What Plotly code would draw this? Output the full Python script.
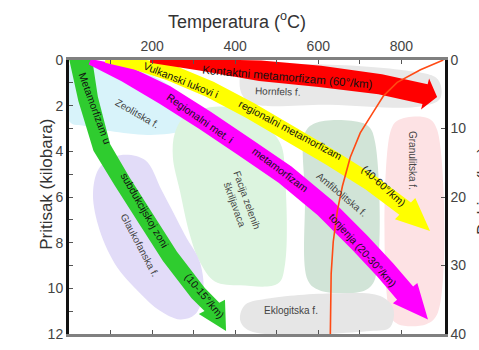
import numpy as np
import plotly.graph_objects as go

# ---------------- data (temperature in °C, pressure in kbar) ----------------
temp_ticks = [100, 200, 300, 400, 500, 600, 700, 800]
temp_labels = ["", "200", "", "400", "", "600", "", "800"]
pres_ticks = list(range(0, 13))
pres_labels = [str(v) if v % 2 == 0 else "" for v in pres_ticks]
depth_ticks = [0, 10, 20, 30, 40]
depth_labels = ["0", "10", "20", "30", "40"]

# metamorphic facies outlines
zeol_T = [2, 75, 195, 279, 303, 279, 195, 99, 38, 2]
zeol_P = [0.21, 0.09, 0.64, 1.70, 2.55, 3.06, 3.28, 3.11, 2.89, 2.72]
horn_T = [424, 556, 797, 888, 893, 845, 628, 436, 412]
horn_P = [0.26, 0.17, 0.43, 0.85, 1.70, 2.04, 1.96, 1.87, 1.28]
green_T = [279, 364, 448, 508, 520, 520, 503, 412, 351, 315, 291, 267, 250, 255]
green_P = [2.47, 2.04, 2.55, 3.62, 5.11, 8.94, 9.79, 9.87, 9.70, 8.85, 7.66, 5.74, 4.26, 3.19]
amf_T = [568, 592, 664, 720, 737, 737, 712, 604, 575, 568]
amf_P = [3.19, 2.77, 2.64, 2.89, 3.62, 9.57, 10.09, 10.09, 9.66, 5.96]
gran_T = [773, 792, 864, 886, 888, 860, 792, 773]
gran_P = [3.19, 2.64, 2.55, 3.06, 11.06, 11.57, 11.57, 11.15]
ekl_T = [424, 484, 652, 749, 780, 773, 725, 436, 412]
ekl_P = [10.72, 10.43, 10.21, 10.34, 10.85, 11.70, 11.87, 11.87, 11.40]
glau_T = [75, 123, 183, 224, 279, 315, 323, 303, 267, 219, 171, 111, 70, 58]
glau_P = [4.68, 4.17, 4.38, 5.74, 7.66, 8.85, 10.21, 11.15, 11.36, 10.98, 10.21, 8.94, 7.23, 5.74]

# geotherm arrows: centre lines and tips
red_T = [195, 315, 460, 604, 749, 857]
red_P = [0.06, 0.21, 0.47, 0.72, 1.06, 1.49]
red_tip = (886, 1.62)
yel_T = [87, 159, 243, 339, 436, 532, 628, 725, 809]
yel_P = [0.06, 0.17, 0.55, 1.28, 2.21, 3.23, 4.26, 5.36, 6.51]
yel_tip = (869, 7.49)
mag_T = [50, 135, 231, 327, 424, 520, 616, 700, 761, 809]
mag_P = [0.08, 0.60, 1.53, 2.64, 3.83, 5.02, 6.47, 8.00, 9.19, 10.21]
mag_tip = (864, 11.36)
grn_T = [26, 46, 79, 128, 183, 243, 311, 344]
grn_P = [-0.25, 1.70, 3.83, 5.32, 6.89, 8.60, 10.21, 10.81]
grn_tip = (378, 11.87)

# melting curve
melt_T = [901, 846, 790, 757, 733, 701, 677, 658, 646, 636, 631, 629]
melt_P = [0.0, 0.43, 0.98, 1.57, 2.26, 3.19, 4.26, 5.53, 6.60, 7.96, 9.36, 12.0]

# ---------------- styling / layout ----------------
W, H = 479, 350
ML, MR, MT, MB = 69, 34, 60, 8
XR = [0, 905]
YR = [12, 0]
PW, PH = W - ML - MR, H - MT - MB
SX = PW / (XR[1] - XR[0])
SY = PH / (YR[0] - YR[1])

red_w = [3, 12, 21, 22, 21, 21]
yel_w = [3, 12, 17, 17, 17, 17, 17, 17, 17]
mag_w = [6, 17, 21, 21, 21, 21, 21, 21, 21, 21]
grn_w = [23, 20, 18, 17, 17, 17, 17, 17]


def arrow_poly(T, P, widths, head_w, tip):
    xs = np.array(T, float) * SX
    ys = np.array(P, float) * SY
    tx, ty = tip[0] * SX, tip[1] * SY
    n = len(xs)
    left, right = [], []
    for i in range(n):
        if i == 0:
            dx, dy = xs[1] - xs[0], ys[1] - ys[0]
        elif i == n - 1:
            dx, dy = tx - xs[i], ty - ys[i]
        else:
            dx, dy = xs[i + 1] - xs[i - 1], ys[i + 1] - ys[i - 1]
        L = np.hypot(dx, dy)
        nx, ny = -dy / L, dx / L
        w = widths[i] / 2
        left.append((xs[i] + nx * w, ys[i] + ny * w))
        right.append((xs[i] - nx * w, ys[i] - ny * w))
        if i == n - 1:
            hl = (xs[i] + nx * head_w / 2, ys[i] + ny * head_w / 2)
            hr = (xs[i] - nx * head_w / 2, ys[i] - ny * head_w / 2)
    pts = left + [hl, (tx, ty), hr] + right[::-1] + [left[0]]
    px = [p[0] / SX for p in pts]
    py = [p[1] / SY for p in pts]
    return px, py


fig = go.Figure()


def blob(T, P, color):
    fig.add_trace(go.Scatter(x=T + [T[0]], y=P + [P[0]], mode="lines", fill="toself",
                             fillcolor=color, line=dict(width=0, shape="spline", smoothing=1.0),
                             hoverinfo="skip", showlegend=False))


blob(zeol_T, zeol_P, "#d8f3fa")
blob(horn_T, horn_P, "#e8e8e8")
blob(green_T, green_P, "#dcf4df")
blob(amf_T, amf_P, "#d1e4d7")
blob(gran_T, gran_P, "#fde2e4")
blob(ekl_T, ekl_P, "#e6e6e6")
blob(glau_T, glau_P, "#e2dcf8")


def arrow(T, P, widths, head_w, tip, color):
    ax, ay = arrow_poly(T, P, widths, head_w, tip)
    fig.add_trace(go.Scatter(x=ax, y=ay, mode="lines", fill="toself", fillcolor=color,
                             line=dict(width=0), hoverinfo="skip", showlegend=False))


arrow(grn_T, grn_P, grn_w, 30, grn_tip, "#2fcc2f")
arrow(mag_T, mag_P, mag_w, 32, mag_tip, "#ff00ff")
arrow(yel_T, yel_P, yel_w, 30, yel_tip, "#ffff00")
arrow(red_T, red_P, red_w, 33, red_tip, "#ff0000")

fig.add_trace(go.Scatter(x=melt_T, y=melt_P, mode="lines", line=dict(color="#ff4a14", width=1.6),
                         hoverinfo="skip", showlegend=False))

# dummy trace for the right axis
fig.add_trace(go.Scatter(x=[None], y=[None], yaxis="y2", showlegend=False, hoverinfo="skip"))

FONT = "Liberation Sans, Arial, sans-serif"

facies_labels = [
    ("Zeolitska f.", 164, 2.34, 30),
    ("Hornfels f.", 503, 1.36, 2),
    ("Facija zelenih<br>škriljavaca", 414, 6.2, 70),
    ("Amfibolitska f.", 657, 5.87, 40),
    ("Granulitska f.", 828, 4.38, 90),
    ("Eklogitska f.", 534, 10.98, 0),
    ("Glaukofanska f.", 169, 8.09, 62),
]
arrow_labels = [
    ("Kontaktni metamorfizam (60°/km)", 525, 0.74, 5),
    ("Vulkanski lukovi i", 270, 0.89, 22),
    ("regionalni metamorfizam", 534, 3.06, 28),
    ("(40-60°/km)", 758, 5.53, 42),
    ("Regionalni met. i", 315, 2.55, 35),
    ("metamorfizam", 510, 4.81, 37),
    ("tonjenja (20-30°/km)", 708, 8.30, 48),
    ("Metamorfizam u", 63, 2.09, 70),
    ("subdukcijskoj zoni", 183, 6.55, 60),
    ("(10-15°/km)", 327, 10.34, 50),
]
arrow_sizes = [11.5, 10.5, 10.5, 10.5, 10.5, 10.5, 10.5, 10.5, 10.5, 10.5]

annotations = []
for txt, x, y, ang in facies_labels:
    annotations.append(dict(text=txt, x=x, y=y, xref="x", yref="y", showarrow=False,
                            textangle=ang, font=dict(family=FONT, size=10, color="#444444")))
for (txt, x, y, ang), fs in zip(arrow_labels, arrow_sizes):
    annotations.append(dict(text=txt, x=x, y=y, xref="x", yref="y", showarrow=False,
                            textangle=ang, font=dict(family=FONT, size=fs, color="#111111")))

annotations.append(dict(text="Temperatura (<sup>o</sup>C)", x=(237 - ML) / PW, y=1 + (MT - 19) / PH,
                        xref="paper", yref="paper", yanchor="middle", showarrow=False,
                        font=dict(family=FONT, size=18, color="#333333")))
annotations.append(dict(text="Pritisak (kilobara)", x=(35 - ML) / PW, y=1 - (188 - MT) / PH,
                        xref="paper", yref="paper", showarrow=False, textangle=-90,
                        font=dict(family=FONT, size=17, color="#333333")))
annotations.append(dict(text="Dubina (km)", x=(494 - ML) / PW, y=1 - (195 - MT) / PH,
                        xref="paper", yref="paper", showarrow=False, textangle=-90,
                        font=dict(family=FONT, size=16, color="#333333")))

fig.update_layout(
    width=W, height=H,
    margin=dict(l=ML, r=MR, t=MT, b=MB, pad=0),
    paper_bgcolor="white", plot_bgcolor="white",
    showlegend=False,
    annotations=annotations,
    xaxis=dict(range=XR, side="top", tickvals=temp_ticks, ticktext=temp_labels,
               ticks="inside", ticklen=4, tickwidth=1, tickcolor="#555555",
               showline=True, linecolor="#808080", linewidth=3, mirror="ticks",
               showgrid=False, zeroline=False,
               tickfont=dict(family=FONT, size=14, color="#444444")),
    yaxis=dict(range=YR, tickvals=pres_ticks, ticktext=pres_labels,
               ticks="inside", ticklen=4, tickwidth=1, tickcolor="#555555",
               showline=True, linecolor="#111111", linewidth=3,
               showgrid=False, zeroline=False,
               tickfont=dict(family=FONT, size=14, color="#444444")),
    yaxis2=dict(range=[40, 0], overlaying="y", side="right", tickvals=depth_ticks,
                ticktext=depth_labels, ticks="inside", ticklen=4, tickwidth=1,
                tickcolor="#555555", showline=True, linecolor="#111111", linewidth=2.5,
                showgrid=False, zeroline=False,
                tickfont=dict(family=FONT, size=14, color="#444444")),
)

fig.write_html("out.html", config={"displayModeBar": False},
               post_script="document.body.style.margin='0';document.body.style.overflow='hidden';")
